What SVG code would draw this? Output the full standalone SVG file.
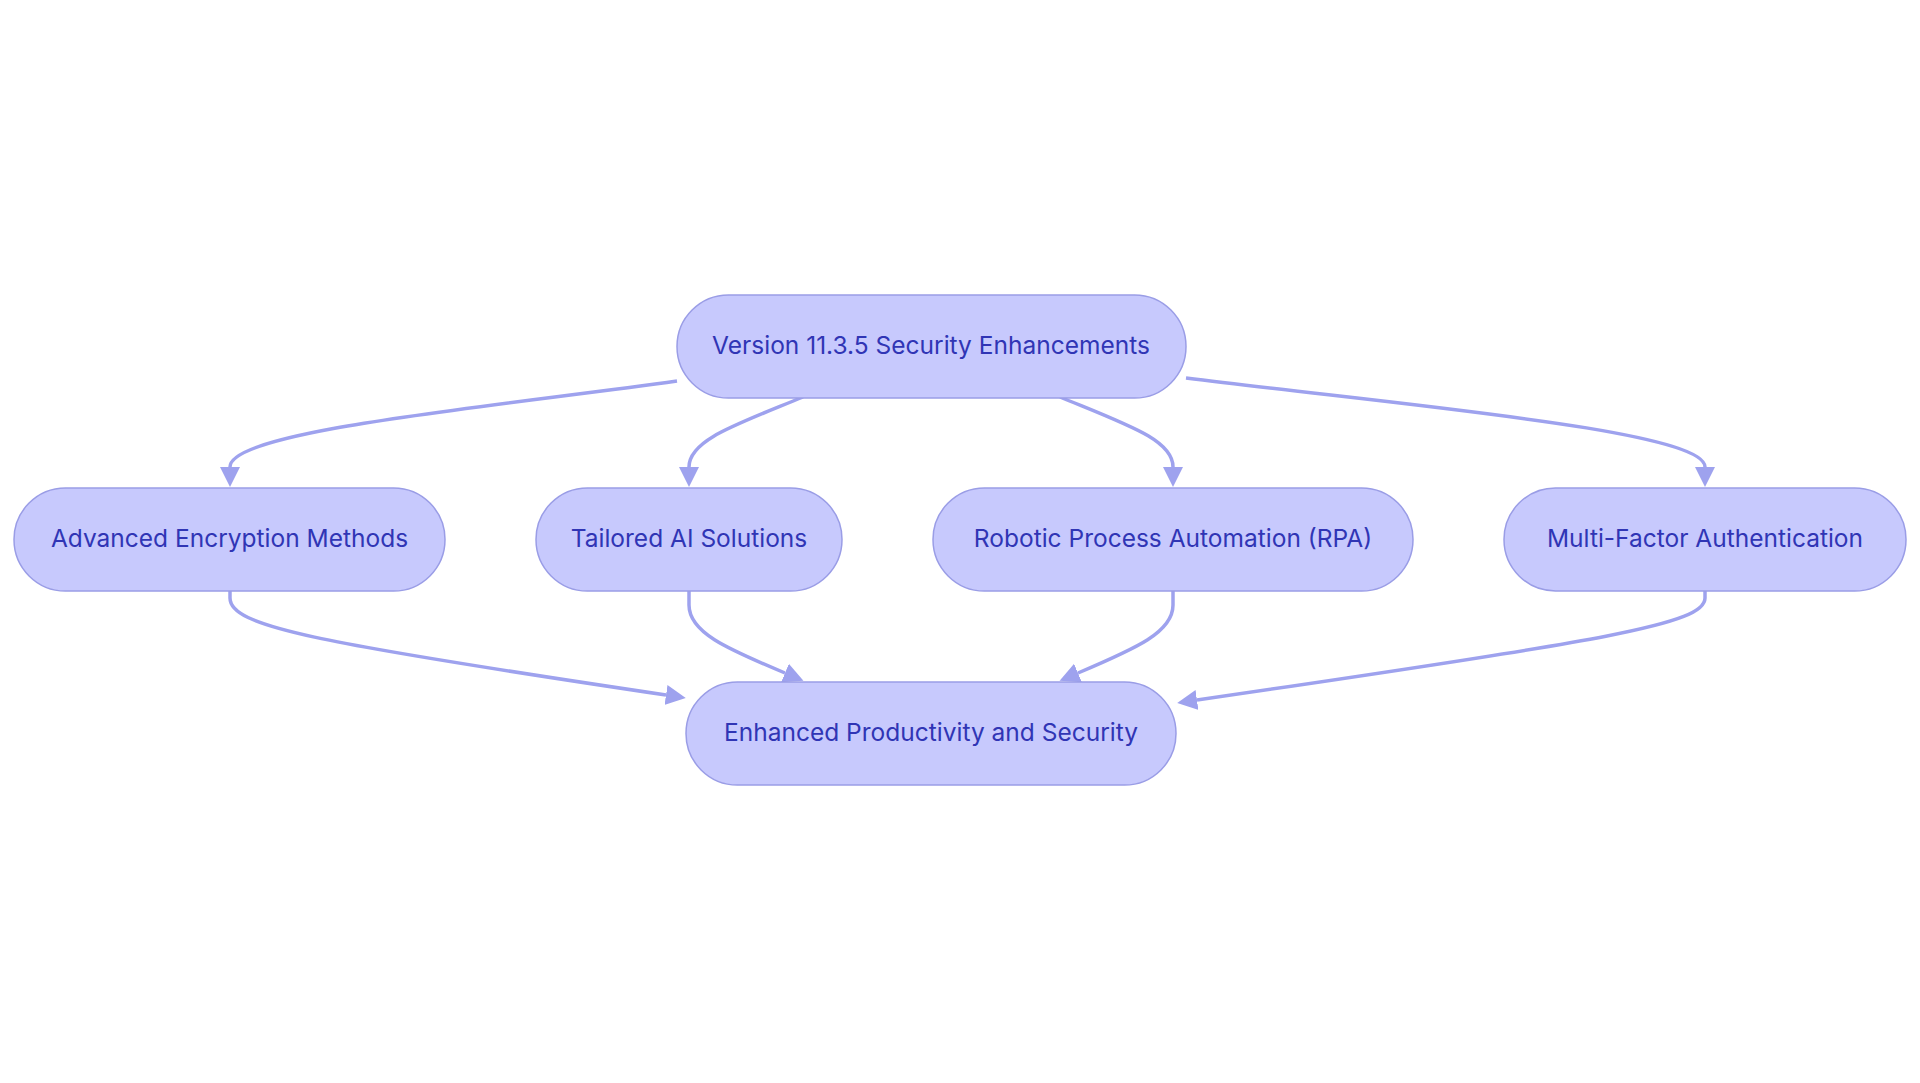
<svg xmlns="http://www.w3.org/2000/svg" width="1920" height="1083" viewBox="0 0 1920 1083">
<style>
.node rect{fill:#c7c9fd;stroke:#9a9de6;stroke-width:1.5}
.node text{font-family:Inter,"Noto Sans","Liberation Sans",sans-serif;font-size:24.5px;fill:#3035b5;text-anchor:middle;dominant-baseline:central}
.edge{fill:none;stroke:#9ea2ee;stroke-width:3.5}
</style>
<defs>
<marker id="arr" viewBox="0 0 10 10" refX="0" refY="5" markerUnits="userSpaceOnUse" markerWidth="20" markerHeight="21" orient="auto">
<path d="M0,0 L10,5 L0,10 z" fill="#9ea2ee"/>
</marker>
</defs>
<rect width="1920" height="1083" fill="#ffffff"/>
<g id="edges">
<path class="edge" marker-end="url(#arr)" d="M677,381 C500,406 230,430 230,467"/>
<path class="edge" marker-end="url(#arr)" d="M803,397 C735,425 689,440 689,467"/>
<path class="edge" marker-end="url(#arr)" d="M1060,397 C1128,425 1173,440 1173,467"/>
<path class="edge" marker-end="url(#arr)" d="M1186,378 C1400,405 1705,430 1705,467"/>
<path class="edge" marker-end="url(#arr)" d="M230,591 L230,598 C230,626 310,642 666,695"/>
<path class="edge" marker-end="url(#arr)" d="M689,591 L689,605 C689,632 725,648 785,673"/>
<path class="edge" marker-end="url(#arr)" d="M1173,591 L1173,605 C1173,632 1137,648 1078,673"/>
<path class="edge" marker-end="url(#arr)" d="M1705,591 L1705,598 C1705,624 1610,640 1197,700"/>
</g>
<g id="n-top" class="node">
<rect x="677" y="295" width="509" height="103" rx="51.5"/>
<text x="931" y="344.5">Version 11.3.5 Security Enhancements</text>
</g>
<g id="n-aes" class="node">
<rect x="14" y="488" width="431" height="103" rx="51.5"/>
<text x="229.5" y="537.5">Advanced Encryption Methods</text>
</g>
<g id="n-ai" class="node">
<rect x="536" y="488" width="306" height="103" rx="51.5"/>
<text x="689" y="537.5">Tailored AI Solutions</text>
</g>
<g id="n-rpa" class="node">
<rect x="933" y="488" width="480" height="103" rx="51.5"/>
<text x="1173" y="537.5">Robotic Process Automation (RPA)</text>
</g>
<g id="n-mfa" class="node">
<rect x="1504" y="488" width="402" height="103" rx="51.5"/>
<text x="1705" y="537.5">Multi-Factor Authentication</text>
</g>
<g id="n-out" class="node">
<rect x="686" y="682" width="490" height="103" rx="51.5"/>
<text x="931" y="731.5">Enhanced Productivity and Security</text>
</g>
</svg>
